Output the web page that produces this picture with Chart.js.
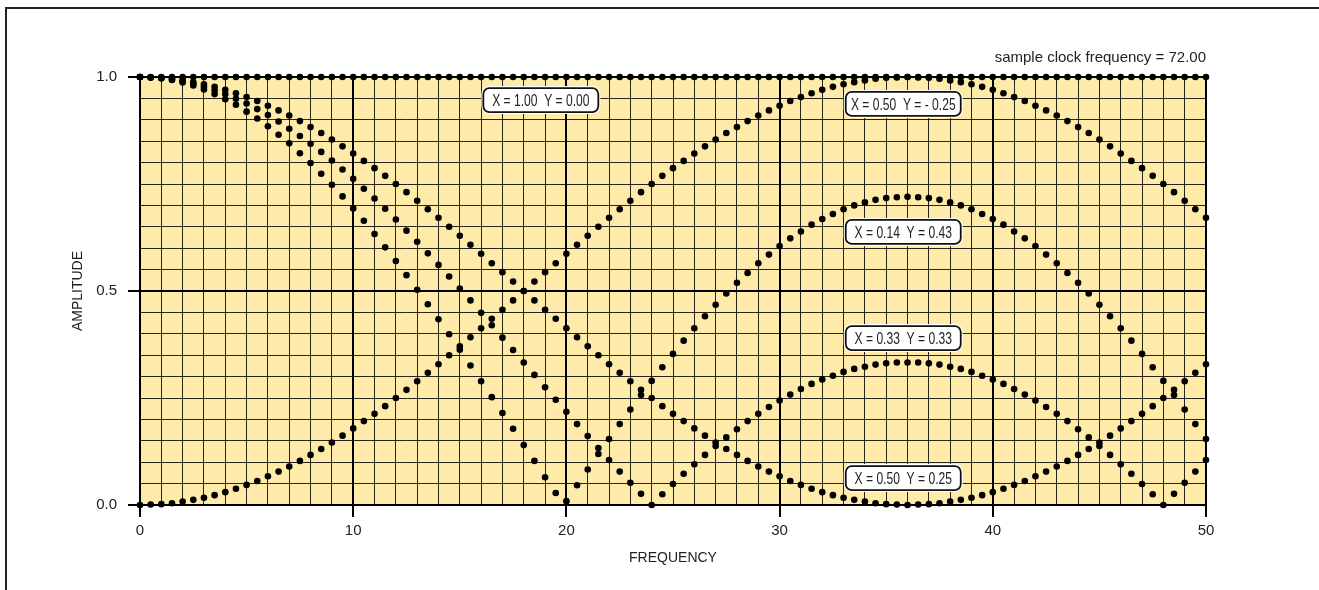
<!DOCTYPE html>
<html>
<head>
<meta charset="utf-8">
<title>Amplitude vs frequency</title>
<script src="https://cdn.jsdelivr.net/npm/chart.js@4.4.1/dist/chart.umd.min.js"></script>
<style>
body { margin:0; background:#fff; }
#wrap { position:relative; width:1319px; height:590px; overflow:hidden; }
#frame { position:absolute; left:5px; top:7px; right:-10px; bottom:-10px; border-top:2px solid #222; border-left:2px solid #222; }
#c1 { position:absolute; left:0; top:0; }
</style>
</head>
<body>
<div id="wrap">
<div id="frame"></div>
<canvas id="c1" width="1319" height="590"></canvas>
</div>
<script>
// frequency steps (x axis)
var freq = [0,0.5,1,1.5,2,2.5,3,3.5,4,4.5,5,5.5,6,6.5,7,7.5,8,8.5,9,9.5,
 10,10.5,11,11.5,12,12.5,13,13.5,14,14.5,15,15.5,16,16.5,17,17.5,18,18.5,19,19.5,
 20,20.5,21,21.5,22,22.5,23,23.5,24,24.5,25,25.5,26,26.5,27,27.5,28,28.5,29,29.5,
 30,30.5,31,31.5,32,32.5,33,33.5,34,34.5,35,35.5,36,36.5,37,37.5,38,38.5,39,39.5,
 40,40.5,41,41.5,42,42.5,43,43.5,44,44.5,45,45.5,46,46.5,47,47.5,48,48.5,49,49.5,50];

// X = 1.00  Y = 0.00
var ampA = [1,1,1,1,1,1,1,1,1,1, 1,1,1,1,1,1,1,1,1,1, 1,1,1,1,1,1,1,1,1,1,
 1,1,1,1,1,1,1,1,1,1, 1,1,1,1,1,1,1,1,1,1, 1,1,1,1,1,1,1,1,1,1,
 1,1,1,1,1,1,1,1,1,1, 1,1,1,1,1,1,1,1,1,1, 1,1,1,1,1,1,1,1,1,1,
 1,1,1,1,1,1,1,1,1,1, 1];

// X = 0.50  Y = -0.25
var ampB = [0.000,0.001,0.002,0.004,0.008,0.012,0.017,0.023,0.030,0.038,
 0.047,0.056,0.067,0.078,0.090,0.103,0.117,0.131,0.146,0.162,
 0.179,0.196,0.213,0.231,0.250,0.269,0.289,0.309,0.329,0.350,
 0.371,0.392,0.413,0.435,0.456,0.478,0.500,0.522,0.544,0.565,
 0.587,0.608,0.629,0.650,0.671,0.691,0.711,0.731,0.750,0.769,
 0.787,0.804,0.821,0.838,0.854,0.869,0.883,0.897,0.910,0.922,
 0.933,0.944,0.953,0.962,0.970,0.977,0.983,0.988,0.992,0.996,
 0.998,0.999,1.000,0.999,0.998,0.996,0.992,0.988,0.983,0.977,
 0.970,0.962,0.953,0.944,0.933,0.922,0.910,0.897,0.883,0.869,
 0.854,0.838,0.821,0.804,0.787,0.769,0.750,0.731,0.711,0.691,
 0.671];

// X = 0.14  Y = 0.43
var ampC = [1.000,0.999,0.997,0.993,0.987,0.980,0.971,0.960,0.948,0.935,
 0.919,0.903,0.885,0.865,0.845,0.822,0.799,0.774,0.748,0.721,
 0.693,0.664,0.633,0.602,0.570,0.537,0.503,0.469,0.434,0.399,
 0.363,0.326,0.289,0.252,0.215,0.178,0.140,0.103,0.065,0.028,
 0.009,0.046,0.083,0.119,0.154,0.189,0.223,0.257,0.290,0.322,
 0.353,0.384,0.413,0.441,0.468,0.494,0.519,0.542,0.565,0.585,
 0.605,0.623,0.639,0.655,0.668,0.680,0.691,0.700,0.707,0.713,
 0.717,0.719,0.720,0.719,0.717,0.713,0.707,0.700,0.691,0.680,
 0.668,0.655,0.639,0.623,0.605,0.585,0.565,0.542,0.519,0.494,
 0.468,0.441,0.413,0.384,0.353,0.322,0.290,0.257,0.223,0.189,
 0.154];

// X = 0.33  Y = 0.33
var ampD = [1.000,0.999,0.997,0.994,0.990,0.984,0.977,0.969,0.960,0.949,
 0.938,0.925,0.911,0.896,0.879,0.862,0.844,0.825,0.805,0.784,
 0.762,0.739,0.716,0.692,0.667,0.641,0.615,0.588,0.561,0.534,
 0.506,0.478,0.449,0.420,0.391,0.362,0.333,0.304,0.275,0.246,
 0.218,0.189,0.161,0.133,0.105,0.078,0.052,0.026,0.000,0.025,
 0.049,0.073,0.095,0.117,0.138,0.158,0.177,0.196,0.213,0.229,
 0.244,0.258,0.271,0.283,0.293,0.302,0.311,0.318,0.323,0.328,
 0.331,0.333,0.333,0.333,0.331,0.328,0.323,0.318,0.311,0.302,
 0.293,0.283,0.271,0.258,0.244,0.229,0.213,0.196,0.177,0.158,
 0.138,0.117,0.095,0.073,0.049,0.025,0.000,0.026,0.052,0.078,
 0.105];

// X = 0.50  Y = 0.25
var ampE = [1.000,0.999,0.998,0.996,0.992,0.988,0.983,0.977,0.970,0.962,
 0.953,0.944,0.933,0.922,0.910,0.897,0.883,0.869,0.854,0.838,
 0.821,0.804,0.787,0.769,0.750,0.731,0.711,0.691,0.671,0.650,
 0.629,0.608,0.587,0.565,0.544,0.522,0.500,0.478,0.456,0.435,
 0.413,0.392,0.371,0.350,0.329,0.309,0.289,0.269,0.250,0.231,
 0.213,0.196,0.179,0.162,0.146,0.131,0.117,0.103,0.090,0.078,
 0.067,0.056,0.047,0.038,0.030,0.023,0.017,0.012,0.008,0.004,
 0.002,0.001,0.000,0.001,0.002,0.004,0.008,0.012,0.017,0.023,
 0.030,0.038,0.047,0.056,0.067,0.078,0.090,0.103,0.117,0.131,
 0.146,0.162,0.179,0.196,0.213,0.231,0.250,0.269,0.289,0.309,
 0.329];

var xTicks = [0,10,20,30,40,50];
var yTicks = [0,0.5,1];

// curve captions, placed in chart values
var capText = ['X = 1.00  Y = 0.00','X = 0.50  Y = - 0.25','X = 0.14  Y = 0.43','X = 0.33  Y = 0.33','X = 0.50  Y = 0.25'];
var capX = [18.8,35.8,35.8,35.8,35.8];
var capY = [0.946,0.937,0.638,0.390,0.063];

var noteText = 'sample clock frequency = 72.00';

function pts(ys){
  var out=[];
  for(var i=0;i<freq.length;i++){ out.push({x:freq[i], y:ys[i]}); }
  return out;
}
function isOn(v, list){
  for(var i=0;i<list.length;i++){ if(Math.abs(v-list[i])<1e-6) return true; }
  return false;
}
function dotSet(name, ys){
  return {label:name, data:pts(ys), showLine:false, pointRadius:3.3, pointHoverRadius:3.3,
    pointBackgroundColor:'#000', pointBorderWidth:0, clip:false};
}

var FONT = '"Liberation Sans", Arial, sans-serif';

var bgPlugin = {
  id:'plotbg',
  beforeDraw:function(chart){
    var a=chart.chartArea, ctx=chart.ctx;
    ctx.save();
    ctx.fillStyle='#FFEBA9';
    ctx.fillRect(a.left,a.top,a.right-a.left,a.bottom-a.top);
    ctx.restore();
  }
};

var capPlugin = {
  id:'captions',
  afterDraw:function(chart){
    var ctx=chart.ctx, xs=chart.scales.x, ys=chart.scales.y;
    ctx.save();
    for(var i=0;i<capText.length;i++){
      var cx=xs.getPixelForValue(capX[i]), cy=ys.getPixelForValue(capY[i]);
      var w=115, h=24;
      ctx.beginPath();
      ctx.roundRect(cx-w/2, cy-h/2, w, h, 6);
      ctx.fillStyle='#fff';
      ctx.fill();
      ctx.lineWidth=4; ctx.strokeStyle='#fff'; ctx.stroke();
      ctx.lineWidth=1.8; ctx.strokeStyle='#111'; ctx.stroke();
      // narrow text
      ctx.save();
      ctx.translate(cx, cy+1);
      ctx.scale(0.71,1);
      ctx.fillStyle='#222';
      ctx.font='17px '+FONT;
      ctx.textAlign='center'; ctx.textBaseline='middle';
      ctx.fillText(capText[i],0,0);
      ctx.restore();
    }
    // note at top right
    ctx.fillStyle='#222';
    ctx.font='15px '+FONT;
    ctx.textAlign='right'; ctx.textBaseline='middle';
    ctx.fillText(noteText, chart.chartArea.right, 58);
    ctx.restore();
  }
};

var ctx = document.getElementById('c1').getContext('2d');
var chart = new Chart(ctx, {
  type:'scatter',
  data:{ datasets:[
    dotSet('X=1.00 Y=0.00', ampA),
    dotSet('X=0.50 Y=-0.25', ampB),
    dotSet('X=0.14 Y=0.43', ampC),
    dotSet('X=0.33 Y=0.33', ampD),
    dotSet('X=0.50 Y=0.25', ampE)
  ]},
  options:{
    responsive:false,
    animation:false,
    devicePixelRatio:1,
    layout:{ padding:{ left:0, top:77, right:113, bottom:0 } },
    plugins:{ legend:{display:false}, tooltip:{enabled:false} },
    scales:{
      x:{
        type:'linear', min:0, max:50,
        afterFit:function(s){ s.height=85; },
        border:{ color:'#000', width:2 },
        grid:{
          color:function(c){ return isOn(c.tick.value, xTicks) ? '#000' : 'rgba(0,0,0,0.85)'; },
          lineWidth:function(c){ return isOn(c.tick.value, xTicks) ? 2 : 1; },
          tickColor:function(c){ return isOn(c.tick.value, xTicks) ? '#000' : 'rgba(0,0,0,0)'; },
          tickWidth:2,
          tickLength:12
        },
        ticks:{
          stepSize:1, autoSkip:false, maxRotation:0, padding:5, color:'#222',
          font:{ family:FONT, size:15 },
          callback:function(v){ return isOn(v, xTicks) ? String(v) : ''; }
        },
        title:{ display:true, text:'FREQUENCY', color:'#222', font:{ family:FONT, size:14 }, padding:{ top:0, bottom:23 } }
      },
      y:{
        type:'linear', min:0, max:1,
        afterFit:function(s){ s.width=140; },
        border:{ color:'#000', width:2 },
        grid:{
          color:function(c){ return isOn(c.tick.value, yTicks) ? '#000' : 'rgba(0,0,0,0.85)'; },
          lineWidth:function(c){ return isOn(c.tick.value, yTicks) ? 2 : 1; },
          tickColor:function(c){ return isOn(c.tick.value, yTicks) ? '#000' : 'rgba(0,0,0,0)'; },
          tickWidth:2,
          tickLength:12
        },
        ticks:{
          stepSize:0.05, autoSkip:false, padding:11, color:'#222',
          font:{ family:FONT, size:15 },
          callback:function(v){ return isOn(v, yTicks) ? v.toFixed(1) : ''; }
        },
        title:{ display:true, text:'AMPLITUDE', color:'#222', font:{ family:FONT, size:14 }, padding:{ top:70, bottom:0 } }
      }
    }
  },
  plugins:[bgPlugin, capPlugin]
});
</script>
</body>
</html>
